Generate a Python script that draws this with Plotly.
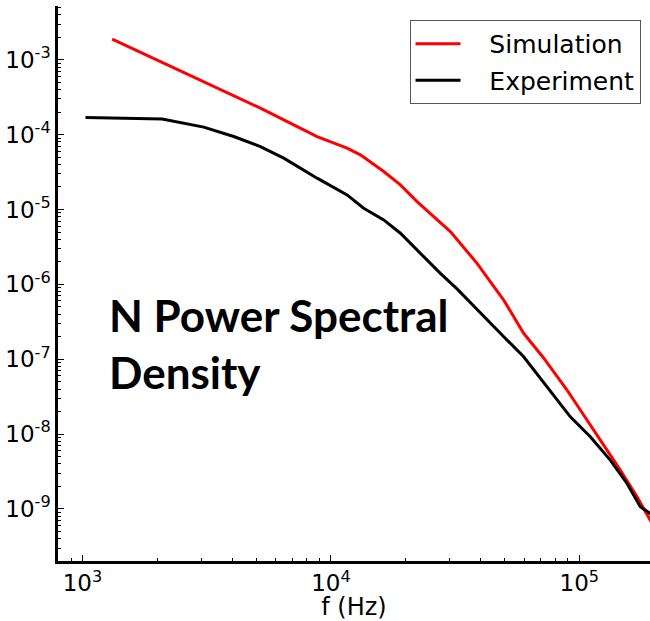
import plotly.graph_objects as go

# Simulation (red)
sim_f = [1317, 5203, 8800, 11620, 13140, 16320, 19040, 22230, 25930, 30270,
         38750, 49610, 59700, 71830, 89230, 114160, 146220, 170700, 193100, 215800]
sim_psd = [1.89e-3, 2.26e-4, 9.43e-5, 6.60e-5, 5.37e-5, 3.21e-5, 2.13e-5, 1.275e-5, 8.04e-6, 5.06e-6,
           1.91e-6, 6.18e-7, 2.22e-7, 1.04e-7, 3.88e-8, 1.13e-8, 3.30e-9, 1.45e-9, 7.08e-10, 3.71e-10]

# Experiment (black)
exp_f = [1028, 2093, 3077, 4063, 5203, 6458, 8800, 11620, 13550, 16320, 19040, 23620, 27580,
         32190, 39960, 48090, 59700, 74130, 92010, 110740, 133200, 155600, 176000, 193100, 215800]
exp_psd = [1.693e-4, 1.612e-4, 1.26e-4, 9.43e-5, 6.93e-5, 4.85e-5, 2.62e-5, 1.567e-5, 1.041e-5,
           7.26e-6, 4.82e-6, 2.35e-6, 1.40e-6, 8.70e-7, 4.11e-7, 2.22e-7, 1.08e-7, 4.29e-8,
           1.70e-8, 9.20e-9, 4.49e-9, 2.19e-9, 1.07e-9, 8.71e-10, 8.6e-10]

x_range = [2.9014, 5.2845]
y_range = [-9.695, -2.282]
x_tickvals = [1e3, 1e4, 1e5]
x_ticktext = ["10<sup>3</sup>", "10<sup>4</sup>", "10<sup>5</sup>"]
y_tickvals = [1e-9, 1e-8, 1e-7, 1e-6, 1e-5, 1e-4, 1e-3]
y_ticktext = ["10<sup>-9</sup>", "10<sup>-8</sup>", "10<sup>-7</sup>", "10<sup>-6</sup>",
              "10<sup>-5</sup>", "10<sup>-4</sup>", "10<sup>-3</sup>"]

FONT = "DejaVu Sans"

fig = go.Figure()
fig.add_trace(go.Scatter(x=sim_f, y=sim_psd, mode="lines", name="   Simulation",
                         line=dict(color="#ff0000", width=3), legendgroup="a"))
fig.add_trace(go.Scatter(x=exp_f, y=exp_psd, mode="lines", name="   Experiment",
                         line=dict(color="#000000", width=3), legendgroup="b"))

minor = dict(ticks="inside", ticklen=3, tickcolor="black", tickwidth=1, showgrid=False)

fig.update_layout(
    width=650, height=621,
    margin=dict(l=58, r=0, t=6, b=60),
    paper_bgcolor="white", plot_bgcolor="white",
    font=dict(family=FONT, size=23, color="black"),
    showlegend=True,
    legend=dict(x=0.984, xanchor="right", y=0.975, yanchor="top",
                bordercolor="#555555", borderwidth=1, bgcolor="white", itemwidth=45,
                font=dict(family=FONT, size=25), traceorder="grouped", tracegroupgap=1),
    xaxis=dict(type="log", range=x_range, showline=True, linecolor="black", linewidth=2.5,
               ticks="inside", ticklen=6, tickcolor="black", tickwidth=1,
               tickvals=x_tickvals, ticktext=x_ticktext, showgrid=False, zeroline=False,
               minor=dict(**minor, dtick="D1"),
               title=dict(text="f (Hz)", font=dict(family=FONT, size=24), standoff=0)),
    yaxis=dict(type="log", range=y_range, showline=True, linecolor="black", linewidth=2.5,
               ticks="inside", ticklen=6, tickcolor="black", tickwidth=1,
               tickvals=y_tickvals, ticktext=y_ticktext, showgrid=False, zeroline=False,
               minor=dict(**minor, dtick="D1")),
    xaxis2=dict(type="log", range=x_range, overlaying="x", side="top", anchor="y",
                showline=True, linecolor="black", linewidth=2.5,
                ticks="inside", ticklen=6, tickcolor="black", tickwidth=1,
                tickvals=x_tickvals, showticklabels=False, showgrid=False, zeroline=False,
                minor=dict(**minor, dtick="D1")),
    yaxis2=dict(type="log", range=y_range, overlaying="y", side="right", anchor="x",
                showline=False, ticks="inside", ticklen=6, tickcolor="black", tickwidth=1,
                tickvals=y_tickvals, showticklabels=False, showgrid=False, zeroline=False,
                minor=dict(**minor, dtick="D1")),
)

fig.add_annotation(text="<b>N Power Spectral<br>Density</b>", xref="paper", yref="paper",
                   x=0.083, y=0.493, xanchor="left", yanchor="top", showarrow=False, align="left",
                   font=dict(family="Lato", size=44, color="black"))

fig.write_html("out.html")
